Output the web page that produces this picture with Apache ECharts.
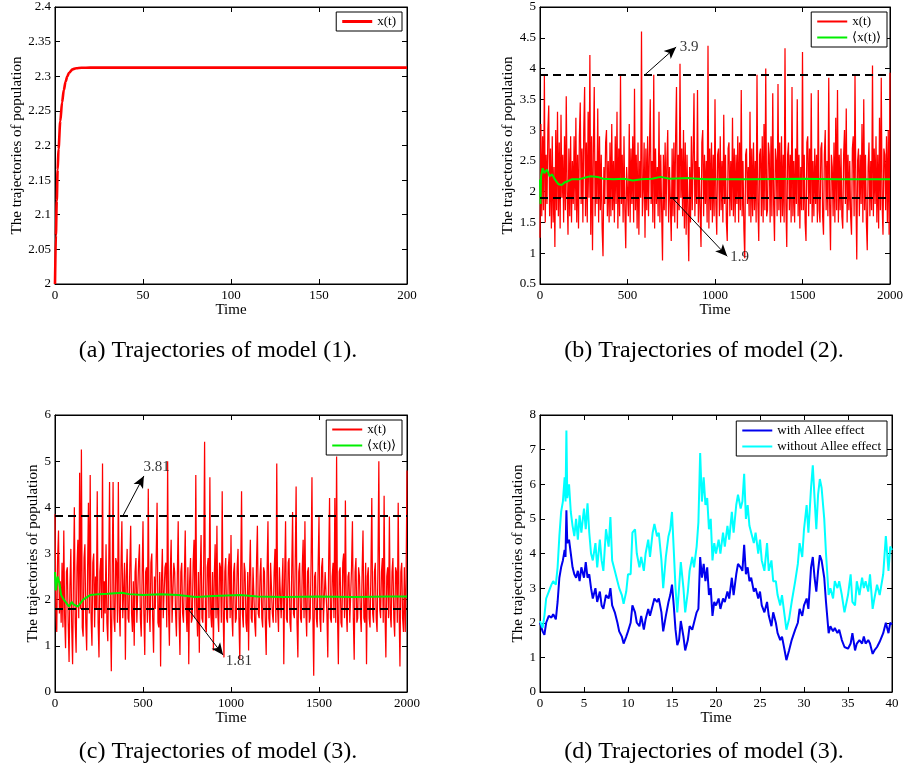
<!DOCTYPE html>
<html><head><meta charset="utf-8">
<script src="https://cdn.jsdelivr.net/npm/echarts@6/dist/echarts.min.js"></script>
<style>html,body{margin:0;padding:0;background:#fff}#c{width:906px;height:774px}</style>
</head><body><div id="c"></div>
<script>
// ---------- (a) model (1) ----------
const aTime = [0,0.5,1,1.5,2,3,4,5,6,7,8,10,12,15,20,200];
const aX    = [2.0,2.07,2.12,2.165,2.195,2.235,2.262,2.28,2.292,2.3,2.305,2.31,2.3115,2.3122,2.3125,2.3125];

// ---------- (b) model (2) ----------
const bStep = 5;
const bX = [
 1.25,3.1,1.6,2.9,1.7,3.88,1.5,2.6,1.8,3.0,3.4,1.6,2.7,1.4,2.9,1.5,2.4,1.1,3.0,1.7,
 3.3,1.6,2.8,1.4,3.25,1.9,2.6,1.5,2.9,1.7,3.55,2.0,1.3,2.7,1.6,2.9,1.5,2.5,1.8,2.9,
 1.7,3.2,1.5,2.6,1.4,2.9,3.45,1.8,2.7,1.5,3.0,3.7,1.6,2.8,1.5,3.3,1.9,4.22,1.3,2.9,
 1.05,2.7,3.7,1.6,2.5,1.8,3.35,1.5,2.9,1.7,2.6,1.4,0.95,2.4,1.8,2.8,3.0,1.6,2.5,1.5,
 2.8,1.6,3.1,1.7,2.5,1.5,2.9,1.8,3.3,1.4,2.7,1.6,3.89,1.8,2.6,1.5,2.9,1.7,1.08,2.4,
 2.4,1.6,3.1,1.5,2.7,1.8,2.9,1.5,3.67,1.7,2.6,1.4,2.8,1.3,2.5,1.9,4.6,1.6,2.0,2.8,
 1.25,2.7,1.7,2.9,1.6,2.6,3.5,1.8,2.5,1.5,3.9,1.4,2.7,1.8,2.4,1.6,3.3,1.5,2.6,1.7,
 0.88,2.6,1.7,2.8,1.6,2.5,3.0,1.5,2.4,1.8,1.2,2.7,1.6,2.8,1.5,2.9,3.7,1.4,2.6,1.7,
 4.08,1.9,2.7,1.6,3.0,1.4,2.8,1.3,2.6,1.7,0.87,2.4,1.5,2.9,1.7,2.6,3.6,1.6,2.5,1.8,
 3.65,1.5,2.4,1.7,1.1,2.8,3.0,1.6,2.6,1.8,2.5,1.5,4.37,1.4,2.7,1.7,2.8,1.5,2.6,1.6,
 3.5,1.8,1.3,2.6,2.7,1.6,2.9,1.7,2.5,1.5,3.25,1.8,2.6,1.5,1.2,2.7,2.8,1.6,2.5,1.7,
 3.2,1.6,2.7,1.5,2.6,1.8,2.9,1.5,2.8,1.7,3.65,1.6,2.5,1.4,0.92,2.6,2.7,1.8,2.4,1.6,
 3.3,1.5,2.7,1.6,2.8,1.7,2.5,1.5,3.9,1.8,1.2,2.6,2.7,1.6,2.9,1.5,3.1,1.7,4.0,1.6,
 1.7,2.8,2.6,1.5,2.9,1.6,3.6,1.8,1.2,2.7,2.5,1.6,3.75,1.7,2.8,1.5,2.9,1.6,2.6,1.5,
 4.33,1.8,1.1,2.6,2.8,1.7,2.6,1.5,3.7,1.6,2.5,1.5,2.7,1.8,3.5,1.6,2.6,1.4,2.4,1.7,
 4.27,1.7,2.6,1.5,1.2,2.8,2.9,1.6,2.7,1.8,3.6,1.5,2.5,1.6,2.7,1.8,2.6,1.5,3.65,1.7,
 1.5,2.7,2.8,1.6,1.3,2.6,3.0,1.7,2.5,1.6,3.85,1.8,1.05,2.6,2.4,1.6,2.8,1.5,3.2,1.7,
 3.65,1.5,2.6,1.7,2.7,1.6,1.4,2.6,3.0,1.8,3.35,1.5,2.6,1.7,2.5,1.6,1.3,2.7,2.9,1.6,
 3.9,2.0,0.9,2.5,2.7,1.6,2.6,1.8,3.1,1.5,3.5,1.7,2.6,1.5,1.05,2.4,2.8,1.6,2.5,1.7,
 4.05,1.6,2.7,1.8,2.9,1.5,2.6,1.4,3.2,1.7,3.85,1.8,1.3,2.7,2.6,1.7,2.9,1.5,3.0,1.3,
 3.93
];
const bMeanTime = [0,3,6,15,25,40,55,70,85,105,125,140,160,180,220,260,290,330,360,420,480,530,580,640,690,740,850,950,1200,1500,1700,2000];
const bMean     = [2.2,1.8,2.25,2.38,2.3,2.36,2.25,2.28,2.2,2.12,2.11,2.15,2.17,2.2,2.2,2.23,2.25,2.24,2.21,2.2,2.21,2.18,2.2,2.21,2.24,2.21,2.22,2.2,2.2,2.21,2.2,2.2];
const bBounds = [3.9, 1.9];

// ---------- (c) model (3) ----------
const cStep = 5;
const cX = [
 3.85,1.8,1.3,2.9,3.5,1.7,2.4,1.5,2.8,1.4,3.5,1.6,0.95,2.6,2.7,1.5,0.65,2.3,3.1,1.4,
 0.6,2.5,4.0,1.5,0.85,2.7,3.3,1.6,4.75,1.8,5.25,1.4,1.2,2.9,3.2,1.5,0.9,2.6,4.1,1.7,
 4.7,1.6,1.0,2.8,3.0,1.4,2.5,1.8,4.35,1.5,0.75,2.6,2.9,1.6,4.95,1.3,2.4,1.7,3.2,1.5,
 1.1,2.6,4.55,1.7,0.45,2.5,4.55,1.6,1.3,2.9,2.8,1.5,4.55,1.8,1.2,2.7,3.7,1.6,1.6,2.8,
 0.7,2.5,3.1,1.6,1.5,2.7,3.6,1.7,1.3,2.4,1.0,2.6,2.9,1.5,1.5,2.8,3.2,1.6,1.2,2.5,
 3.7,1.7,0.8,2.6,2.7,1.5,4.4,1.8,1.3,2.8,3.0,1.6,0.85,2.5,1.8,2.9,4.1,1.5,1.4,2.6,
 0.55,2.4,3.1,1.6,1.6,2.7,2.8,1.4,5.0,1.8,1.0,2.6,3.3,1.5,1.5,2.8,2.6,1.7,1.2,2.5,
 3.7,1.6,0.8,2.6,2.8,1.7,1.5,2.5,3.5,1.8,1.3,2.7,0.6,2.4,2.9,1.5,1.6,2.8,3.3,1.6,
 4.7,1.8,1.2,2.6,0.85,2.5,3.4,1.6,1.5,2.8,5.42,1.4,1.3,2.7,2.9,1.6,4.65,1.7,1.4,2.6,
 0.9,2.5,3.2,1.6,3.6,1.7,1.3,2.8,2.7,1.5,4.35,1.8,0.75,2.6,2.9,1.6,1.5,2.7,3.0,1.6,
 3.4,1.7,1.2,2.6,2.8,1.5,1.6,2.7,3.1,1.6,0.7,2.5,4.35,1.7,1.4,2.8,2.6,1.5,1.3,2.6,
 0.9,2.5,3.3,1.6,1.5,2.7,2.7,1.5,1.2,2.8,3.6,1.7,1.6,2.5,2.9,1.6,1.4,2.7,2.6,1.5,
 0.8,2.6,3.7,1.6,1.4,2.8,2.8,1.7,1.5,2.6,3.1,1.5,4.95,1.8,1.3,2.7,2.7,1.6,1.6,2.9,
 0.6,2.5,3.7,1.6,1.5,2.8,2.9,1.5,1.3,2.6,3.9,1.7,1.6,2.8,4.45,1.5,0.75,2.6,2.8,1.6,
 1.5,2.7,3.3,1.6,3.7,1.8,1.2,2.6,2.7,1.5,1.6,2.8,4.65,1.7,0.35,2.5,2.6,1.6,1.4,2.7,
 3.8,1.6,1.3,2.7,2.9,1.5,1.5,2.6,2.6,1.7,0.75,2.8,4.2,1.6,1.5,2.5,2.8,1.6,4.2,1.5,
 5.1,1.7,0.6,2.6,2.7,1.5,1.4,2.8,3.0,1.6,4.15,1.8,1.3,2.5,2.6,1.5,1.5,2.7,3.7,1.6,
 0.7,2.6,2.9,1.5,1.6,2.7,2.5,1.7,1.3,2.6,3.5,1.6,1.5,2.8,0.6,2.5,2.7,1.6,1.4,2.6,
 4.2,1.7,1.5,2.6,2.8,1.6,1.3,2.7,5.0,1.8,1.6,2.6,2.9,1.5,4.25,1.7,0.75,2.5,2.7,1.6,
 3.8,1.7,1.4,2.6,2.9,1.6,1.2,2.7,2.6,1.5,4.1,1.8,0.55,2.6,2.8,1.6,1.3,2.7,1.3,2.5,
 4.8
];
const cMeanTime = [0,5,15,25,35,50,80,95,105,130,140,160,180,200,250,300,380,420,500,600,700,800,900,1050,1150,1300,1500,1700,1900,2000];
const cMean     = [2.6,2.2,2.5,2.35,2.1,2.0,1.85,1.95,1.9,1.85,1.83,2.0,2.05,2.1,2.12,2.13,2.15,2.12,2.1,2.12,2.1,2.06,2.08,2.1,2.07,2.06,2.07,2.06,2.07,2.07];
const cBounds = [3.81, 1.81];

// ---------- (d) model (3), with / without Allee effect ----------
const dWithAllee = [
 [0,2.0],[0.3,1.75],[0.5,1.65],[0.7,2.0],[1,2.2],[1.3,2.15],[1.5,2.25],[1.8,2.1],[2,2.6],[2.2,3.3],
 [2.4,3.6],[2.6,3.8],[2.8,4.1],[2.9,3.9],[3,5.25],[3.1,4.3],[3.3,4.4],[3.5,4.0],[3.7,3.6],[3.9,3.4],
 [4.1,3.3],[4.3,3.5],[4.5,3.2],[4.7,3.6],[5,3.3],[5.2,3.75],[5.4,3.3],[5.6,3.4],[5.8,3.0],[6,2.7],
 [6.3,3.0],[6.5,2.6],[6.8,2.9],[7,2.5],[7.2,2.4],[7.5,2.8],[7.8,2.7],[8,3.0],[8.2,2.5],[8.5,2.3],
 [8.8,2.0],[9,1.75],[9.3,1.6],[9.5,1.4],[9.8,1.6],[10,1.75],[10.3,2.0],[10.5,2.5],[10.8,2.3],[11,2.0],
 [11.3,1.9],[11.5,2.2],[11.8,1.8],[12,2.1],[12.3,2.4],[12.5,2.2],[12.8,2.5],[13,2.7],[13.3,2.6],[13.5,2.7],
 [13.8,2.3],[14,1.75],[14.3,2.2],[14.6,2.6],[14.8,2.8],[15,3.1],[15.2,2.5],[15.4,1.8],[15.6,1.35],[15.8,1.5],
 [16,2.05],[16.3,1.6],[16.5,1.2],[16.8,1.5],[17,1.9],[17.3,1.8],[17.5,2.0],[17.8,2.3],[18,2.4],[18.2,3.9],
 [18.4,3.3],[18.6,3.7],[18.8,3.2],[19,3.6],[19.2,2.8],[19.4,3.0],[19.6,2.2],[19.8,2.6],[20,2.5],[20.3,2.7],
 [20.5,2.4],[20.8,2.7],[21,2.6],[21.3,2.9],[21.5,2.7],[21.8,3.3],[22,2.8],[22.3,3.4],[22.5,3.7],[22.8,3.6],
 [23,3.5],[23.2,4.25],[23.4,3.4],[23.6,3.6],[23.8,3.2],[24,3.3],[24.3,2.9],[24.5,3.0],[24.8,2.7],[25,2.9],
 [25.2,2.5],[25.5,2.3],[25.8,2.6],[26,2.2],[26.3,1.9],[26.5,2.3],[26.8,2.0],[27,1.7],[27.3,1.5],[27.5,1.6],
 [27.8,1.2],[28,0.92],[28.3,1.2],[28.6,1.5],[29,1.8],[29.3,2.0],[29.5,2.4],[29.8,2.2],[30,2.5],[30.3,2.7],
 [30.5,2.4],[30.8,3.6],[31,3.9],[31.2,3.3],[31.4,2.9],[31.6,3.5],[31.8,3.95],[32,3.8],[32.3,3.3],[32.5,2.6],
 [32.8,1.7],[33,1.9],[33.3,1.75],[33.5,1.85],[33.8,1.7],[34,1.8],[34.3,1.5],[34.6,1.3],[35,1.25],[35.3,1.4],
 [35.5,1.7],[35.8,1.2],[36,1.4],[36.3,1.5],[36.6,1.4],[36.8,1.6],[37,1.4],[37.3,1.5],[37.5,1.4],[37.8,1.1],
 [38,1.2],[38.3,1.3],[38.6,1.45],[39,1.7],[39.3,2.0],[39.6,1.7],[39.8,2.0],[40,1.95]
];
const dWithoutAllee = [
 [0,2.05],[0.3,1.85],[0.5,2.2],[0.7,2.7],[1,2.9],[1.3,3.1],[1.5,3.2],[1.8,3.1],[2,3.6],[2.2,4.5],
 [2.4,5.2],[2.6,5.5],[2.8,6.2],[2.9,5.5],[3,7.55],[3.1,5.6],[3.3,6.0],[3.5,5.2],[3.7,4.8],[3.9,4.5],
 [4.1,5.0],[4.3,4.4],[4.5,5.1],[4.7,4.6],[5,5.3],[5.2,4.7],[5.4,5.45],[5.6,4.6],[5.8,4.0],[6,3.8],
 [6.3,4.3],[6.5,3.6],[6.8,4.4],[7,3.8],[7.2,3.5],[7.5,4.7],[7.8,4.2],[8,5.05],[8.2,3.8],[8.5,3.5],
 [8.8,3.2],[9,3.0],[9.3,2.8],[9.5,2.55],[9.8,2.9],[10,3.4],[10.3,3.4],[10.5,4.6],[10.8,4.7],[11,4.0],
 [11.3,3.6],[11.5,3.9],[11.8,3.5],[12,4.0],[12.3,4.4],[12.5,3.9],[12.8,4.6],[13,4.85],[13.3,4.5],[13.5,4.6],
 [13.8,3.8],[14,3.0],[14.3,3.9],[14.6,4.5],[14.8,4.7],[15,5.2],[15.2,4.1],[15.4,3.0],[15.6,2.3],[15.8,3.0],
 [16,3.75],[16.3,3.0],[16.5,2.3],[16.8,2.9],[17,3.5],[17.3,3.9],[17.5,3.6],[17.8,4.2],[18,4.9],[18.2,6.9],
 [18.4,5.5],[18.6,6.2],[18.8,5.4],[19,5.6],[19.2,4.7],[19.4,5.0],[19.6,3.8],[19.8,4.3],[20,4.0],[20.3,4.4],
 [20.5,4.0],[20.8,4.6],[21,4.2],[21.3,4.8],[21.5,4.4],[21.8,5.2],[22,4.6],[22.3,5.4],[22.5,5.7],[22.8,5.3],
 [23,5.5],[23.2,6.3],[23.4,5.0],[23.6,5.4],[23.8,4.8],[24,4.8],[24.3,4.3],[24.5,4.6],[24.8,4.0],[25,4.4],
 [25.2,3.8],[25.5,3.5],[25.8,4.3],[26,3.5],[26.3,3.8],[26.5,3.2],[26.8,3.2],[27,2.8],[27.3,2.5],[27.5,2.8],
 [27.8,2.2],[28,1.8],[28.3,2.1],[28.6,2.6],[29,3.2],[29.3,3.7],[29.5,4.3],[29.8,3.9],[30,4.7],[30.3,5.4],
 [30.5,4.6],[30.8,5.9],[31,6.55],[31.2,5.6],[31.4,4.7],[31.6,5.7],[31.8,6.15],[32,5.9],[32.3,5.0],[32.5,4.0],
 [32.8,2.8],[33,3.0],[33.3,2.7],[33.5,3.2],[33.8,3.0],[34,3.2],[34.3,2.8],[34.6,2.3],[35,2.8],[35.3,3.4],
 [35.5,2.6],[35.8,2.5],[36,3.2],[36.3,2.8],[36.6,3.3],[36.8,3.0],[37,3.2],[37.3,2.9],[37.5,3.4],[37.8,2.4],
 [38,2.7],[38.3,3.1],[38.6,2.8],[39,3.4],[39.3,4.5],[39.6,3.5],[39.8,4.2],[40,4.1]
];

const captions = ['(a) Trajectories of model (1).','(b) Trajectories of model (2).','(c) Trajectories of model (3).','(d) Trajectories of model (3).'];

// ---------- chart ----------
const FONT = '"Liberation Serif","Times New Roman",serif';
const chart = echarts.init(document.getElementById('c'));
const panels = [
 {left:55,  top:7,   xmin:0, xmax:200,  xint:50,  ymin:2,   ymax:2.4, yint:0.05, yGap:30},
 {left:540, top:7,   xmin:0, xmax:2000, xint:500, ymin:0.5, ymax:5,   yint:0.5,  yGap:24},
 {left:55,  top:415, xmin:0, xmax:2000, xint:500, ymin:0,   ymax:6,   yint:1,    yGap:14},
 {left:540, top:415, xmin:0, xmax:40,   xint:5,   ymin:0,   ymax:8,   yint:1,    yGap:14}
];
const fmt = v => String(parseFloat(Number(v).toFixed(4)));
const grid = [], xAxis = [], yAxis = [];
const tick = {show:true, inside:true, length:5, lineStyle:{color:'#000', width:1}};
const aline = {show:true, onZero:false, lineStyle:{color:'#000', width:1}};
const lbl = {color:'#000', fontFamily:FONT, fontSize:13, formatter:fmt};
panels.forEach((p,i)=>{
  grid.push({left:p.left, top:p.top, width:352, height:277, show:true, borderColor:'#000', borderWidth:1, backgroundColor:'#fff'});
  xAxis.push({type:'value', gridIndex:i, position:'bottom', min:p.xmin, max:p.xmax, interval:p.xint,
    axisLine:aline, axisTick:tick, splitLine:{show:false}, axisLabel:Object.assign({margin:5}, lbl),
    name:'Time', nameLocation:'middle', nameGap:18, nameTextStyle:{fontFamily:FONT, fontSize:15, color:'#000'}});
  xAxis.push({type:'value', gridIndex:i, position:'top', min:p.xmin, max:p.xmax, interval:p.xint,
    axisLine:aline, axisTick:tick, splitLine:{show:false}, axisLabel:{show:false}});
  yAxis.push({type:'value', gridIndex:i, position:'left', min:p.ymin, max:p.ymax, interval:p.yint,
    axisLine:aline, axisTick:tick, splitLine:{show:false}, axisLabel:Object.assign({margin:4}, lbl),
    name:'The trajectories of population', nameLocation:'middle', nameGap:p.yGap,
    nameTextStyle:{fontFamily:FONT, fontSize:15, color:'#000'}});
  yAxis.push({type:'value', gridIndex:i, position:'right', min:p.ymin, max:p.ymax, interval:p.yint,
    axisLine:aline, axisTick:tick, splitLine:{show:false}, axisLabel:{show:false}});
});

const dashStyle = {type:[8,5], color:'#000', width:2};
const arrowStyle = {type:'solid', color:'#000', width:1};
function bounds(vals, arrows){
  const data = vals.map(v=>({yAxis:v, lineStyle:dashStyle}));
  arrows.forEach(a=>data.push([{coord:a[0], symbol:'none', lineStyle:arrowStyle},{coord:a[1], symbol:'arrow', symbolSize:[8,12]}]));
  return {silent:true, symbol:['none','none'], label:{show:false}, animation:false, data};
}
function labels(idx, items){
  return {type:'scatter', xAxisIndex:idx*2, yAxisIndex:idx*2, symbolSize:1, silent:true,
    itemStyle:{color:'rgba(0,0,0,0)'}, z:10,
    label:{show:true, position:'right', distance:1, fontFamily:FONT, fontSize:15, color:'#000', formatter:p=>p.data.t},
    data: items.map(it=>({value:it[0], t:it[1]}))};
}

const series = [
  {type:'line', name:'a:x(t)', xAxisIndex:0, yAxisIndex:0, symbol:'none', smooth:0.3, smoothMonotone:'x',
   data:aTime.map((t,k)=>[t,aX[k]]), lineStyle:{color:'#ff0000', width:2.6}, itemStyle:{color:'#ff0000'}},
  {type:'line', name:'b:x(t)', xAxisIndex:2, yAxisIndex:2, symbol:'none',
   data:bX.map((v,k)=>[k*bStep,v]), lineStyle:{color:'#ff0000', width:1.25}, itemStyle:{color:'#ff0000'}},
  {type:'line', name:'b:\u27E8x(t)\u27E9', xAxisIndex:2, yAxisIndex:2, symbol:'none',
   data:bMeanTime.map((t,k)=>[t,bMean[k]]), lineStyle:{color:'#00ee00', width:2}, itemStyle:{color:'#00ee00'},
   markLine:bounds(bBounds, [[[600,3.9],[778,4.35]], [[755,1.9],[1070,0.95]]])},
  labels(1, [[[790,4.35],'3.9'], [[1078,0.93],'1.9']]),
  {type:'line', name:'c:x(t)', xAxisIndex:4, yAxisIndex:4, symbol:'none',
   data:cX.map((v,k)=>[k*cStep,v]), lineStyle:{color:'#ff0000', width:1.25}, itemStyle:{color:'#ff0000'}},
  {type:'line', name:'c:\u27E8x(t)\u27E9', xAxisIndex:4, yAxisIndex:4, symbol:'none',
   data:cMeanTime.map((t,k)=>[t,cMean[k]]), lineStyle:{color:'#00ee00', width:2}, itemStyle:{color:'#00ee00'},
   markLine:bounds(cBounds, [[[385,3.81],[505,4.68]], [[754,1.81],[955,0.8]]])},
  labels(2, [[[495,4.88],'3.81'], [[962,0.66],'1.81']]),
  {type:'line', name:'d:with Allee effect', xAxisIndex:6, yAxisIndex:6, symbol:'none', z:3,
   data:dWithAllee, lineStyle:{color:'#0000ee', width:2}, itemStyle:{color:'#0000ee'}},
  {type:'line', name:'d:without Allee effect', xAxisIndex:6, yAxisIndex:6, symbol:'none',
   data:dWithoutAllee, lineStyle:{color:'#00ffff', width:2}, itemStyle:{color:'#00ffff'}}
];

const legCommon = {orient:'vertical', backgroundColor:'#fff', borderColor:'#000', borderWidth:1, borderRadius:0,
  padding:[3,6,3,6], itemWidth:30, itemHeight:2, itemGap:3, icon:'rect', selectedMode:false,
  textStyle:{fontFamily:FONT, fontSize:13, color:'#000'}, formatter:n=>n.slice(2)};
const legend = [
  Object.assign({}, legCommon, {data:['a:x(t)'], right:504, top:12, itemHeight:3}),
  Object.assign({}, legCommon, {data:['b:x(t)','b:\u27E8x(t)\u27E9'], right:19, top:12}),
  Object.assign({}, legCommon, {data:['c:x(t)','c:\u27E8x(t)\u27E9'], right:504, top:420}),
  Object.assign({}, legCommon, {data:['d:with Allee effect','d:without Allee effect'], right:19, top:421})
];

const capPos = [[218,351],[704,351],[218,752],[704,752]];
const graphic = captions.map((t,i)=>({type:'text', x:capPos[i][0], y:capPos[i][1], silent:true,
  style:{text:t, textAlign:'center', textVerticalAlign:'middle', fontFamily:FONT, fontSize:24, fill:'#000'}}));

chart.setOption({animation:false, backgroundColor:'#fff', grid, xAxis, yAxis, series, legend, graphic});
</script></body></html>
